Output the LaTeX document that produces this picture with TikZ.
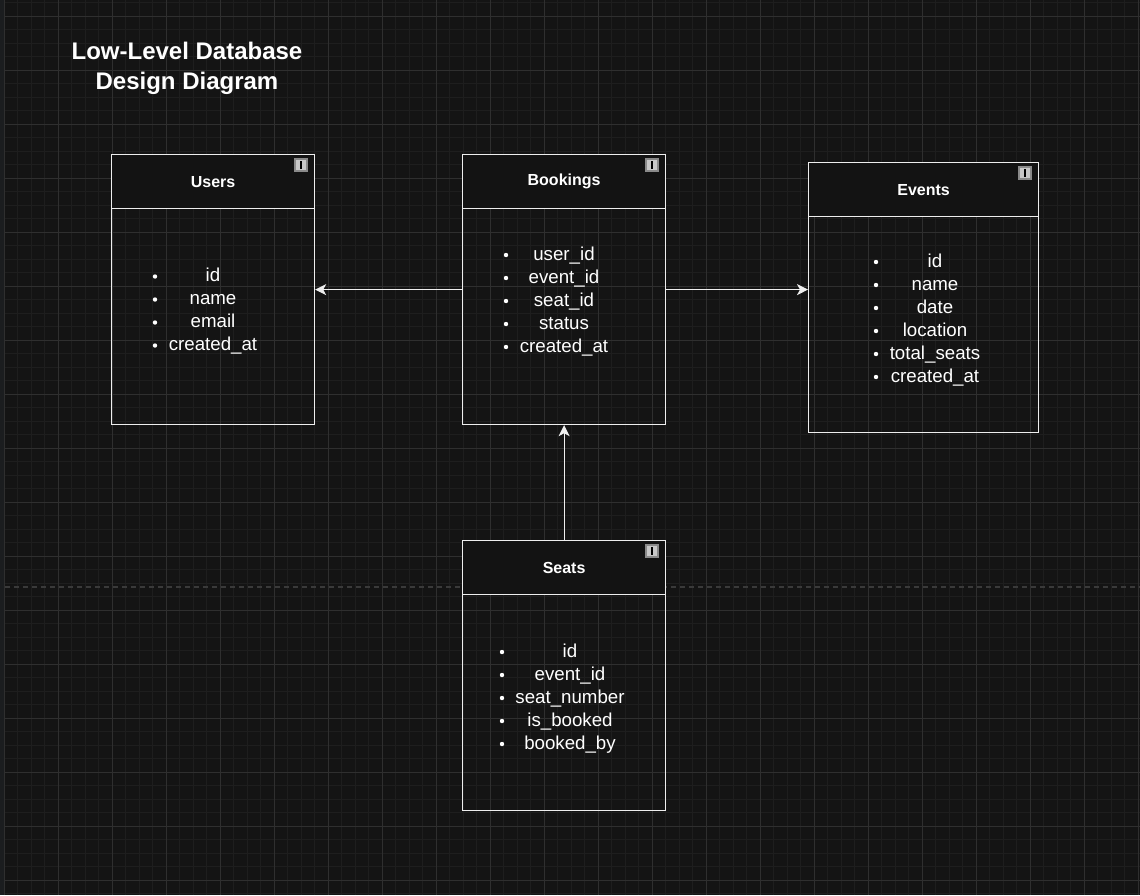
\documentclass[tikz,border=0pt]{standalone}
\usepackage{fontspec}
\setmainfont{Liberation Sans}
\usetikzlibrary{arrows.meta,positioning}

\definecolor{canvas}{HTML}{141414}
\definecolor{sidestrip}{HTML}{1B1D1F}
\definecolor{minorline}{HTML}{1E1E1E}
\definecolor{majorline}{HTML}{2F2F2F}
\definecolor{edgeline}{HTML}{EEEEEE}
\definecolor{headfill}{HTML}{131313}
\definecolor{iconfill}{HTML}{C8C8C8}
\definecolor{iconedge}{HTML}{8A8A8A}
\definecolor{splitline}{HTML}{3A3A3A}

\tikzset{
  tablebox/.style={draw=edgeline, line width=1.2pt, anchor=north west, inner sep=0pt},
  tablehead/.style={draw=edgeline, fill=headfill, line width=1.2pt, anchor=north west,
    inner sep=0pt, text=white, font=\fontsize{16}{19}\selectfont\bfseries},
  field/.style={anchor=base, inner sep=0pt, text=white, font=\fontsize{18.7}{22}\selectfont},
  iconbox/.style={draw=iconedge, fill=iconfill, line width=1.5pt, minimum size=12pt, inner sep=0pt,
    path picture={\fill[black] ([xshift=-1.5pt,yshift=-4pt]path picture bounding box.center)
      rectangle ([xshift=0.5pt,yshift=4pt]path picture bounding box.center);}},
  link/.style={draw=edgeline, line width=1.1pt, -{Stealth[length=11pt,width=11pt,inset=3pt]}}
}

% bullet x, text x, first row y, name prefix, fields
\newcommand{\fieldrows}[5]{%
  \foreach \f [count=\k from 0] in {#5} {
    \fill[white] (#1,{#3+23*\k+2}) circle[radius=2.2pt];
    \node[field] (#4-\k) at (#2,{#3+23*\k+7}) {\f};
  }}

\begin{document}
\begin{tikzpicture}[x=1pt,y=-1pt]
\useasboundingbox (0,0) rectangle (1140,895);
\fill[canvas] (0,0) rectangle (1140,895);
\fill[sidestrip] (0,0) rectangle (5,895);

% grid
\foreach \i in {0,...,84}
  \draw[minorline, line width=0.8pt] ({4.3+13.5*\i},0) -- ({4.3+13.5*\i},895);
\foreach \j in {0,...,66}
  \draw[minorline, line width=0.8pt] (5,{2.5+13.5*\j}) -- (1140,{2.5+13.5*\j});
\foreach \i in {0,...,21}
  \draw[majorline, line width=0.9pt] ({4.3+54*\i},0) -- ({4.3+54*\i},895);
\foreach \j in {0,...,16}
  \draw[majorline, line width=0.9pt] (5,{16+54*\j}) -- (1140,{16+54*\j});
\draw[splitline, line width=1.3pt, dash pattern=on 5pt off 4pt] (5,587) -- (1140,587);

% title
\node[align=center, text=white, font=\fontsize{24}{29.5}\selectfont\bfseries] (title) at (187,68.5)
  {Low-Level Database\\Design Diagram};

% tables
\node[tablebox, minimum width=203, minimum height=270] (users) at (111,154) {};
\node[tablehead, minimum width=203, minimum height=54] (usersHead) at (111,154) {Users};
\node[iconbox] (usersIcon) at (301,165) {};
\fieldrows{155}{213}{274.5}{usersRow}{id,name,email,created\_at}

\node[tablebox, minimum width=203, minimum height=270] (bookings) at (462,154) {};
\node[tablehead, minimum width=203, minimum height=54] (bookingsHead) at (462,154) {Bookings};
\node[iconbox] (bookingsIcon) at (652,165) {};
\fieldrows{506}{564}{253}{bookingsRow}{user\_id,event\_id,seat\_id,status,created\_at}

\node[tablebox, minimum width=230, minimum height=270] (events) at (808,162) {};
\node[tablehead, minimum width=230, minimum height=54] (eventsHead) at (808,162) {Events};
\node[iconbox] (eventsIcon) at (1025,173) {};
\fieldrows{876}{935}{260}{eventsRow}{id,name,date,location,total\_seats,created\_at}

\node[tablebox, minimum width=203, minimum height=270] (seats) at (462,540) {};
\node[tablehead, minimum width=203, minimum height=54] (seatsHead) at (462,540) {Seats};
\node[iconbox] (seatsIcon) at (652,551) {};
\fieldrows{502}{570}{650}{seatsRow}{id,event\_id,seat\_number,is\_booked,booked\_by}

% relations
\draw[link] (bookings.west) -- (users.east);
\draw[link] (bookings.east) -- (bookings.east -| events.west);
\draw[link] (seats.north) -- (bookings.south);
\end{tikzpicture}
\end{document}
